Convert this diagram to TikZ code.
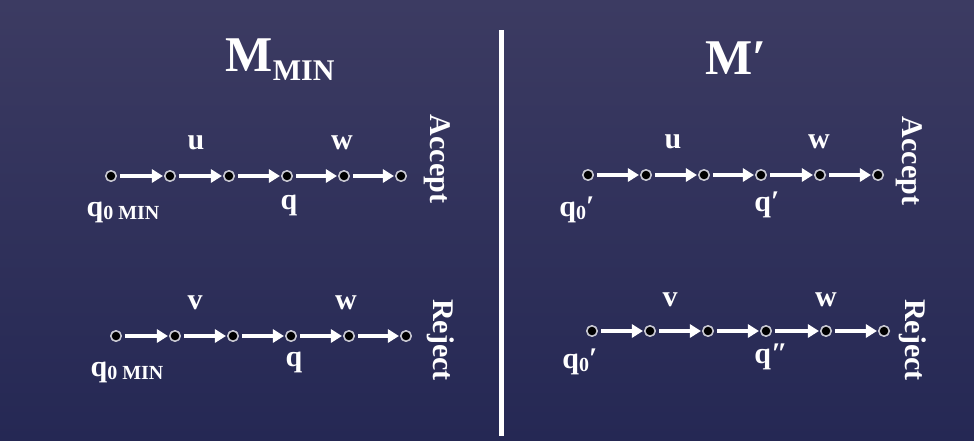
\documentclass[tikz,border=0pt]{standalone}
\usepackage{fontspec}
\setmainfont{Liberation Serif}
\usetikzlibrary{arrows.meta}
\definecolor{slidetop}{RGB}{60,59,98}
\definecolor{slidebot}{RGB}{37,40,84}
\definecolor{ringgray}{RGB}{200,200,210}
\newcommand{\lblfont}{\bfseries\fontsize{30}{30}\selectfont}
\newcommand{\subfont}{\bfseries\fontsize{20}{20}\selectfont}
\newcommand{\qmin}{q\raisebox{-3pt}{\subfont 0 MIN}}
\newcommand{\qnull}{q\raisebox{-3pt}{\subfont 0}′}

\begin{document}
\begin{tikzpicture}[line cap=round,line join=round,x=1pt,y=-1pt,
    stnode/.style={circle,draw=ringgray,fill=black,line width=1.6pt,inner sep=0pt,minimum size=10.5pt},
    trans/.style={white,line width=4.4pt,line cap=butt,-{Triangle[length=11pt,width=13pt]},shorten <=3pt,shorten >=1pt},
    lbl/.style={text=white,font=\lblfont,inner sep=0pt}]
        \useasboundingbox (0,0) rectangle (974,440);
        \shade[top color=slidetop,bottom color=slidebot] (0,0) rectangle (974,440);
        % dividing line
        \draw[white,line width=5pt,line cap=butt] (501,30) -- (501,436);
        % titles
        \node[lbl] (tmin) at (280,60) {\fontsize{50}{50}\selectfont M\raisebox{-9pt}{\fontsize{30}{30}\selectfont MIN}};
        \node[lbl] (tprime) at (736,58) {\fontsize{50}{50}\selectfont M′};
        % states: name/y/x-positions
        \foreach \n/\y/\xa/\xb/\xc/\xd/\xe/\xf in {a/176/111/170/229/287/344/401,
                                                   b/336/116/175/233/291/349/406,
                                                   c/175/588/646/704/761/820/878,
                                                   d/331/592/650/708/766/826/884}{
            \foreach \i/\x in {1/\xa,2/\xb,3/\xc,4/\xd,5/\xe,6/\xf}
                \node[stnode] (\n\i) at (\x,\y) {};
            \foreach \i [count=\j from 2] in {1,...,5}
                \draw[trans] (\n\i) -- (\n\j);
        }
        % M_MIN, accept
        \node[lbl] (ua) at (196,143) {u};
        \node[lbl] (wa) at (342,143) {w};
        \node[lbl] (qsa) at (123,212) {\qmin};
        \node[lbl] (qa) at (289,205) {q};
        \node[lbl,rotate=-90] (acca) at (437,159) {Accept};
        % M_MIN, reject
        \node[lbl] (vb) at (195,303) {v};
        \node[lbl] (wb) at (346,303) {w};
        \node[lbl] (qsb) at (127,372) {\qmin};
        \node[lbl] (qb) at (294,362) {q};
        \node[lbl,rotate=-90] (rejb) at (441,340) {Reject};
        % M', accept
        \node[lbl] (uc) at (673,142) {u};
        \node[lbl] (wc) at (819,142) {w};
        \node[lbl] (qsc) at (577,210) {\qnull};
        \node[lbl] (qc) at (767,205) {q′};
        \node[lbl,rotate=-90] (accc) at (909,161) {Accept};
        % M', reject
        \node[lbl] (vd) at (670,300) {v};
        \node[lbl] (wd) at (826,300) {w};
        \node[lbl] (qsd) at (580,362) {\qnull};
        \node[lbl] (qd) at (771,357) {q″};
        \node[lbl,rotate=-90] (rejd) at (913,340) {Reject};
\end{tikzpicture}
\end{document}
